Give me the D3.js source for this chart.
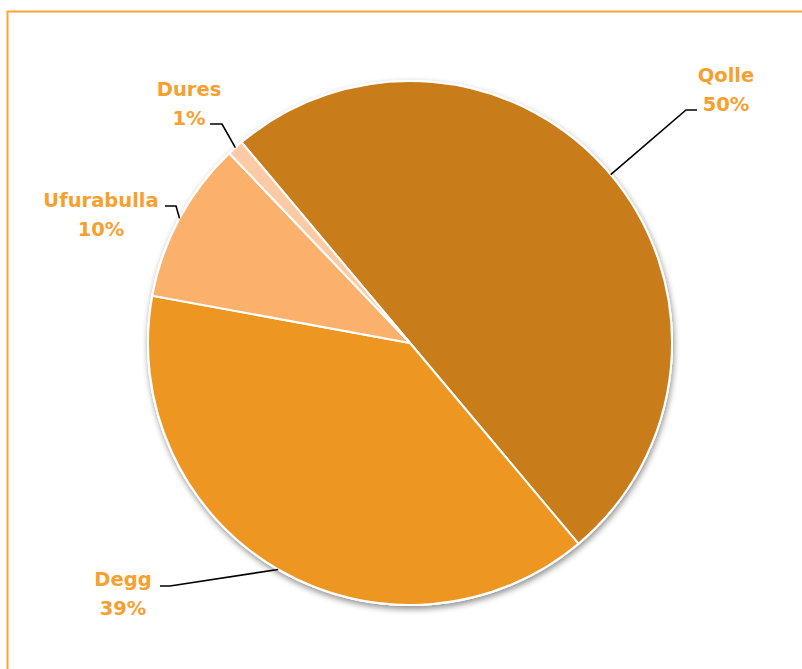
<!DOCTYPE html>
<html>
<head>
<meta charset="utf-8">
<script src="https://cdn.jsdelivr.net/npm/d3@7"></script>
<style>
  body { margin: 0; background: #fff; }
  svg { display: block; }
</style>
</head>
<body>
<div id="chart"></div>
<script>
var names = ["Qolle", "Degg", "Ufurabulla", "Dures"];
var values = [50, 39, 10, 1];
var colors = ["#C87D1A", "#EE9622", "#FBB06C", "#FCCBA6"];
// label anchor (centre of text block) and leader elbow for each slice
var labelPos = [[726, 88], [123, 592], [101, 213], [189, 102]];
var elbows = [[686, 110, 697], [170, 586, 160], [176, 206, 165], [222, 124, 210]];

var width = 802, height = 669,
    cx = 410, cy = 343, r = 262;

var svg = d3.select("#chart").append("svg")
  .attr("width", width)
  .attr("height", height);

svg.append("rect")
  .attr("x", 7.5).attr("y", 11.5)
  .attr("width", width + 20).attr("height", height + 20)
  .style("fill", "#fff")
  .style("stroke", "#F7A535")
  .style("stroke-width", 2);

var defs = svg.append("defs");
var f = defs.append("filter").attr("id", "shadow")
  .attr("x", "-10%").attr("y", "-10%").attr("width", "120%").attr("height", "120%");
f.append("feGaussianBlur").attr("in", "SourceAlpha").attr("stdDeviation", 3);
f.append("feOffset").attr("dx", 1).attr("dy", 3).attr("result", "b");
f.append("feComponentTransfer").append("feFuncA").attr("type", "linear").attr("slope", 0.45);
var m = f.append("feMerge");
m.append("feMergeNode");
m.append("feMergeNode").attr("in", "SourceGraphic");

var pie = d3.pie().sort(null)
  .startAngle(-40 * Math.PI / 180)
  .endAngle(320 * Math.PI / 180);

var arc = d3.arc().innerRadius(0).outerRadius(r);
var arcs = pie(values);

var g = svg.append("g")
  .attr("transform", "translate(" + cx + "," + cy + ")");

g.append("circle").attr("r", r + 1)
  .style("fill", "#fff")
  .attr("filter", "url(#shadow)");

g.selectAll("path.slice")
  .data(arcs)
  .enter().append("path")
  .attr("class", "slice")
  .attr("d", arc)
  .style("fill", function(d, i) { return colors[i]; })
  .style("stroke", "#fff")
  .style("stroke-width", 2)
  .style("stroke-linejoin", "round");

// leader lines
var outer = d3.arc().innerRadius(r).outerRadius(r);
svg.selectAll("path.leader")
  .data(arcs)
  .enter().append("path")
  .attr("class", "leader")
  .attr("d", function(d, i) {
    var p = outer.centroid(d);
    var e = elbows[i];
    return "M" + (p[0] + cx) + "," + (p[1] + cy) + "L" + e[0] + "," + e[1] + "L" + e[2] + "," + e[1];
  })
  .style("fill", "none")
  .style("stroke", "#000")
  .style("stroke-width", 1.6);

var labels = svg.selectAll("text.lbl")
  .data(arcs)
  .enter().append("text")
  .attr("class", "lbl")
  .attr("text-anchor", "middle")
  .style("font-family", "'DejaVu Sans', sans-serif")
  .style("font-weight", "bold")
  .style("font-size", "19.5px")
  .style("fill", "#F7A030");

labels.append("tspan")
  .attr("x", function(d, i) { return labelPos[i][0]; })
  .attr("y", function(d, i) { return labelPos[i][1] - 6; })
  .text(function(d, i) { return names[i]; });

labels.append("tspan")
  .attr("x", function(d, i) { return labelPos[i][0]; })
  .attr("y", function(d, i) { return labelPos[i][1] + 23; })
  .text(function(d, i) { return values[i] + "%"; });
</script>
</body>
</html>
